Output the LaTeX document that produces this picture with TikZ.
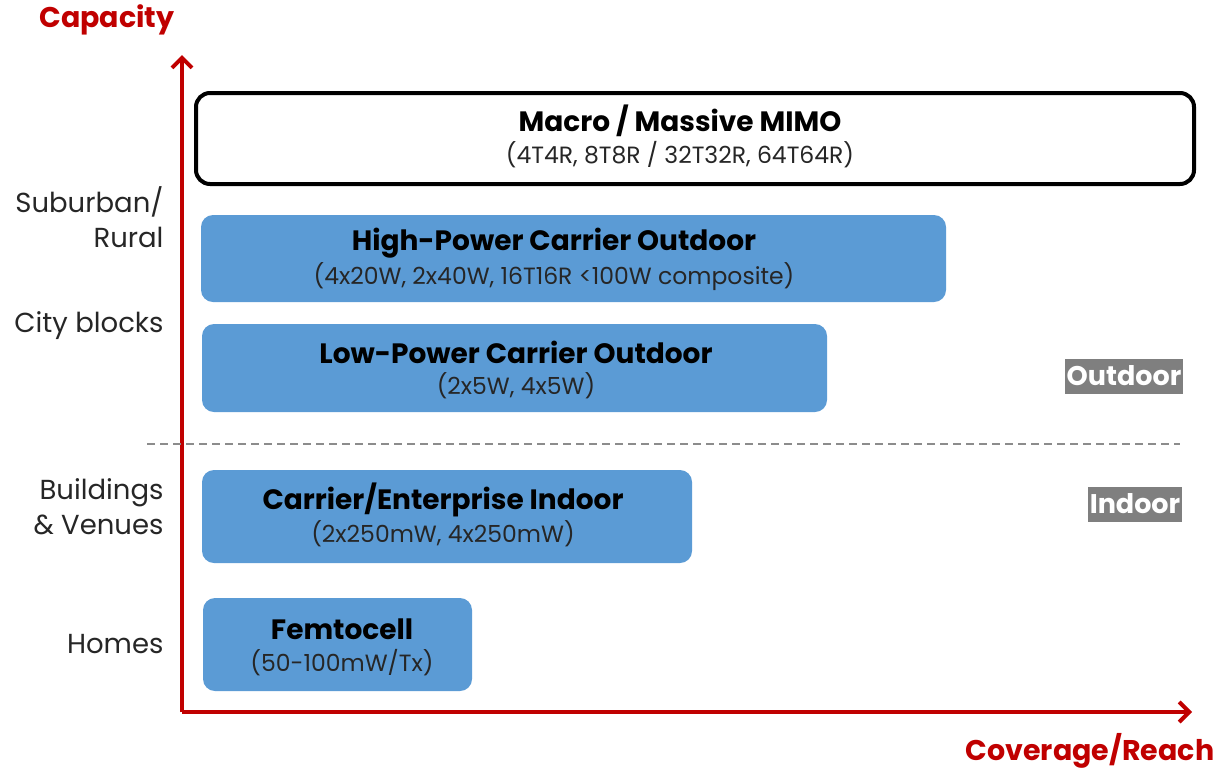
\documentclass[tikz,border=0pt]{standalone}
\usepackage{fontspec}
\setmainfont{Poppins}
\usetikzlibrary{arrows.meta}
\definecolor{axred}{HTML}{C00000}
\definecolor{boxblue}{HTML}{5B9BD5}
\definecolor{tagray}{HTML}{7F7F7F}
\begin{document}
\begin{tikzpicture}[x=1pt,y=-1pt,
  bar/.style={fill=boxblue,rounded corners=12pt,draw=none},
  ttl/.style={font=\fontsize{28}{30}\selectfont\bfseries,text=black},
  sub/.style={font=\fontsize{23.5}{26}\selectfont,text=black!85},
  side/.style={font=\fontsize{27.5}{35}\selectfont,align=right,anchor=east,text=black!85},
  tag/.style={fill=tagray,text=white,font=\fontsize{27}{28}\selectfont\bfseries,inner sep=0pt,minimum height=35pt},
  axis/.style={draw=axred,line width=4pt,-{Straight Barb[length=10pt,width=20pt,line width=4pt]}},
  axlabel/.style={text=axred,font=\fontsize{28.5}{30}\selectfont\bfseries}]
\useasboundingbox (0,0) rectangle (1225,772);
\coordinate (origin) at (182,712);
\coordinate (ytip) at (182,55);
\coordinate (xtip) at (1192,712);
\draw[axis] (origin) -- (ytip);
\draw[axis] (origin) -- (xtip);
\node[axlabel] (cap) at (107,20) {Capacity};
\node[axlabel] (cov) at (1090,751) {Coverage/Reach};
\coordinate (dl) at (147,444);
\coordinate (dr) at (1180,444);
\draw[draw=black!45,line width=1.5pt,dash pattern=on 8pt off 5pt] (dl) -- (dr);
% boxes
\draw[fill=white,draw=black,line width=4pt,rounded corners=14pt] (196,93) rectangle (1194,184);
\node[ttl] (m1) at (680,121) {Macro / Massive MIMO};
\node[sub] (m2) at (680,155) {(4T4R, 8T8R / 32T32R, 64T64R)};
\path[bar] (201,215) rectangle (946,302);
\node[ttl] (h1) at (554,243) {High-Power Carrier Outdoor};
\node[sub] (h2) at (554,277) {(4x20W, 2x40W, 16T16R <100W composite)};
\path[bar] (202,324) rectangle (827,412);
\node[ttl] (l1) at (516,352) {Low-Power Carrier Outdoor};
\node[sub] (l2) at (516,386) {(2x5W, 4x5W)};
\path[bar] (202,470) rectangle (692,563);
\node[ttl] (c1) at (443,500) {Carrier/Enterprise Indoor};
\node[sub] (c2) at (443,534) {(2x250mW, 4x250mW)};
\path[bar] (203,598) rectangle (472,691);
\node[ttl] (f1) at (342,629) {Femtocell};
\node[sub] (f2) at (342,663) {(50-100mW/Tx)};
% side labels
\node[side] (s1) at (167,217) {Suburban/\\Rural};
\node[side] (s2) at (167,326) {City blocks};
\node[side] (s3) at (167,507) {Buildings\\\& Venues};
\node[side] (s4) at (167,644) {Homes};
\node[tag,minimum width=118pt] (out) at (1124,376) {Outdoor};
\node[tag,minimum width=94pt] (in) at (1135,504) {Indoor};
\end{tikzpicture}
\end{document}
